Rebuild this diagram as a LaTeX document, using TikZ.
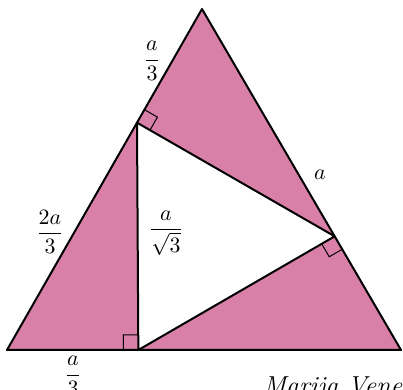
\documentclass[tikz,border=0pt]{standalone}
\usepackage{amsmath}
\usepackage{xcolor}
\usetikzlibrary{calc}
\definecolor{rosa}{RGB}{216,128,168}

\tikzset{
    side/.style={line width=1pt, line join=round},
    rightmark/.style={line width=0.5pt},
    lbl/.style={inner sep=0pt, font=\fontsize{11pt}{13pt}\selectfont}
}

\begin{document}
\begin{tikzpicture}[x=0.5pt, y=-0.5pt]
    \clip (0,0) rectangle (403,390);
    \useasboundingbox (0,0) rectangle (403,390);

    \coordinate (top) at (202,9);
    \coordinate (left) at (7,350);
    \coordinate (right) at (401,350);
    \coordinate (p) at ($(left)!2/3!(top)$);
    \coordinate (q) at ($(top)!2/3!(right)$);
    \coordinate (r) at ($(right)!2/3!(left)$);

    \fill[rosa] (top) -- (left) -- (right) -- cycle;
    \fill[white] (p) -- (q) -- (r) -- cycle;

    \draw[rightmark] ($(p)!7.5pt!(top)$) -- ($(p)!7.5pt!(top) + (p)!7.5pt!(q) - (p)$) -- ($(p)!7.5pt!(q)$);
    \draw[rightmark] ($(q)!7.5pt!(right)$) -- ($(q)!7.5pt!(right) + (q)!7.5pt!(r) - (q)$) -- ($(q)!7.5pt!(r)$);
    \draw[rightmark] ($(r)!7.5pt!(left)$) -- ($(r)!7.5pt!(left) + (r)!7.5pt!(p) - (r)$) -- ($(r)!7.5pt!(p)$);

    \draw[side] (top) -- (left) -- (right) -- cycle;
    \draw[side] (p) -- (q) -- (r) -- cycle;

    \node[lbl] (topthird) at (152,61) {$\dfrac{a}{3}$};
    \node[lbl] (sidea) at (320,175) {$a$};
    \node[lbl] (twothirds) at (50,232) {$\dfrac{2a}{3}$};
    \node[lbl] (height) at (166,233) {$\dfrac{a}{\sqrt{3}}$};
    \node[lbl] (basethird) at (73,376) {$\dfrac{a}{3}$};
    \node[inner sep=0pt, anchor=base west, font=\fontsize{13pt}{15pt}\selectfont\itshape] (sign) at (263,395) {Marija Vene};
\end{tikzpicture}
\end{document}
